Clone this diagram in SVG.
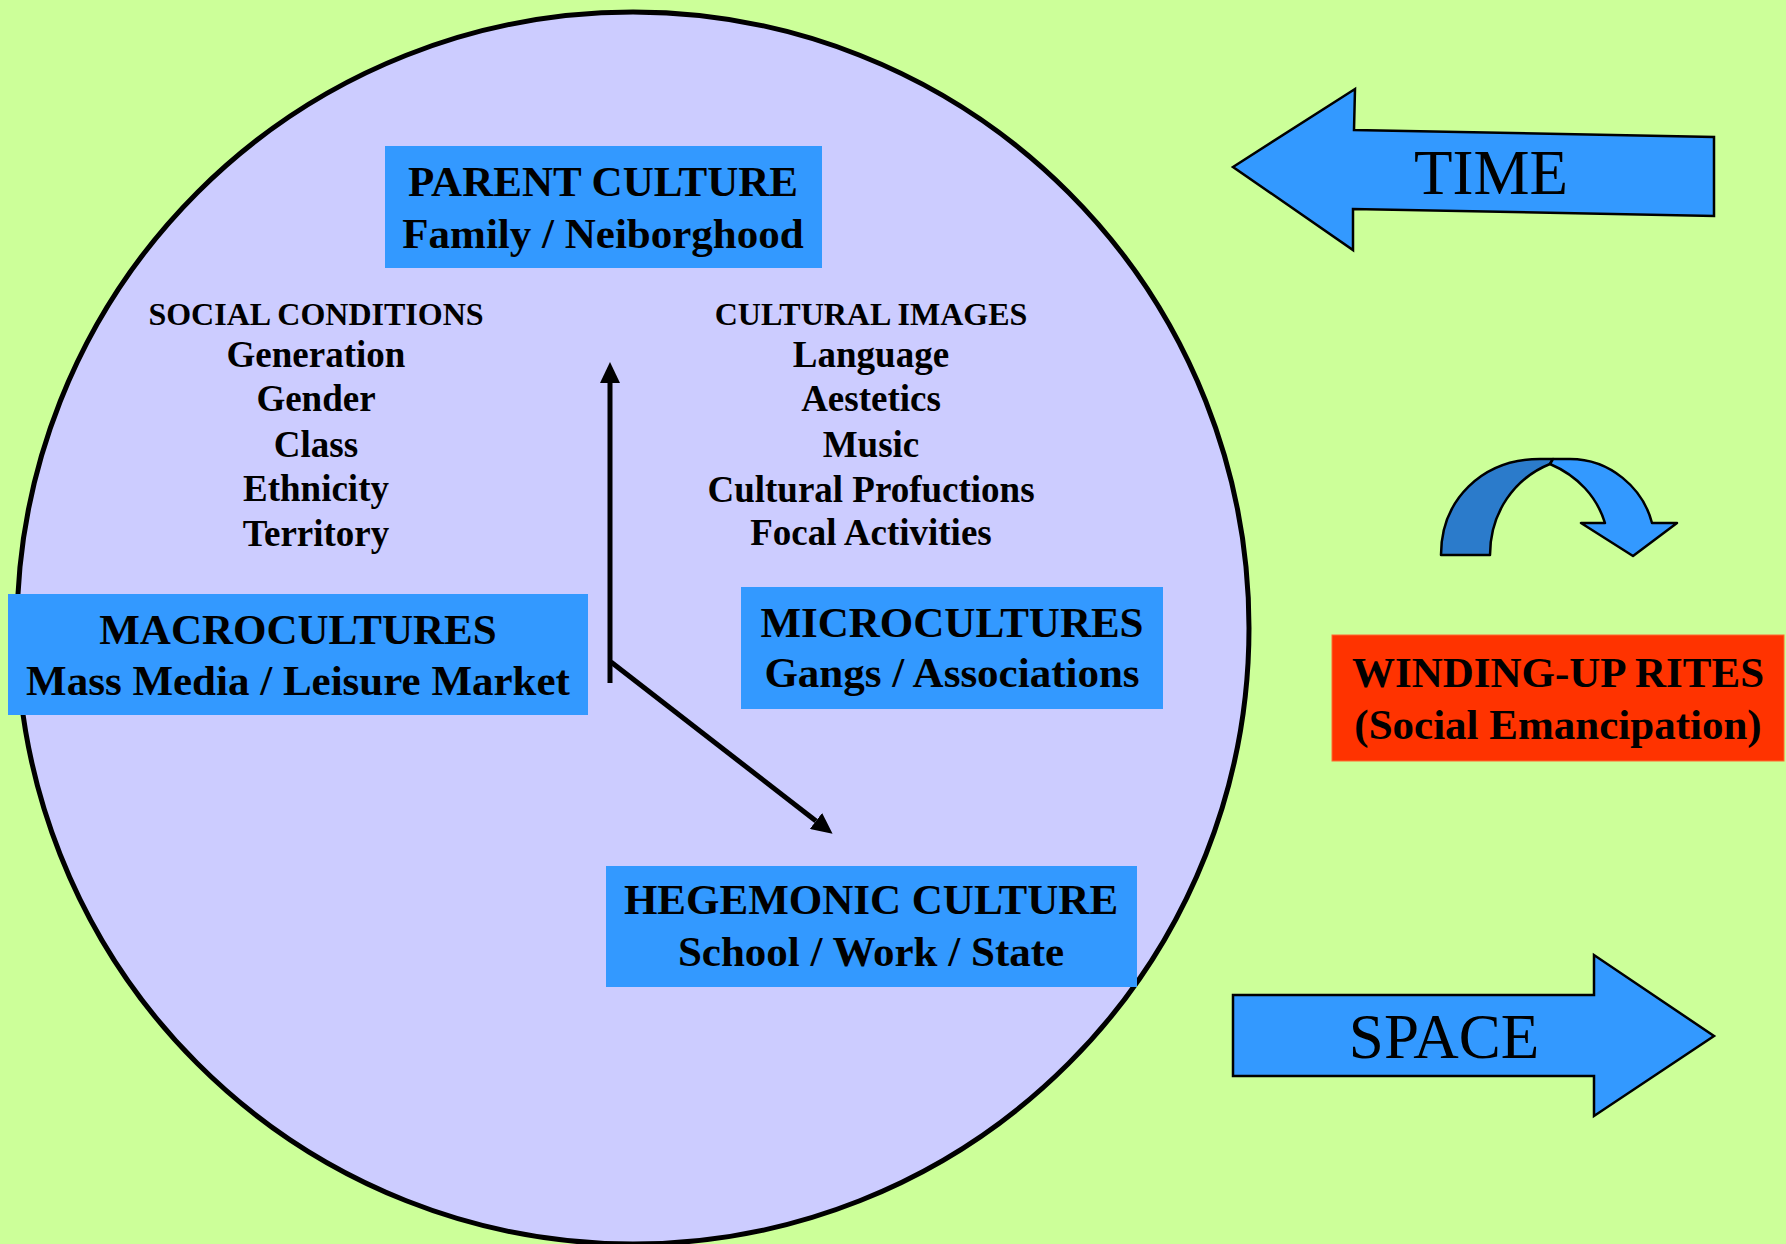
<svg xmlns="http://www.w3.org/2000/svg" width="1786" height="1244" viewBox="0 0 1786 1244">
<defs>
<style>
.box{fill:#3399FF}
.t{font-family:"Liberation Serif","Times New Roman",serif;font-weight:bold;fill:#000;text-anchor:middle}
.big{font-size:43px}
.mid{font-size:37px}
.sm{font-size:32px}
.reg{font-family:"Liberation Serif","Times New Roman",serif;font-size:63px;fill:#000;text-anchor:middle}
.conn{stroke:#000;stroke-width:5;fill:none}
.blk{fill:#3399FF;stroke:#000;stroke-width:2.5;stroke-linejoin:miter}
</style>
<marker id="ah" markerUnits="userSpaceOnUse" markerWidth="21" markerHeight="20" refX="0" refY="10" orient="auto" viewBox="0 0 21 20">
<path d="M0,0 L21,10 L0,20 Z" fill="#000"/>
</marker>
</defs>
<rect x="0" y="0" width="1786" height="1244" fill="#CCFF99"/>
<g id="circle">
<circle cx="633" cy="628" r="616" fill="#CCCCFF" stroke="#000" stroke-width="5"/>
</g>
<g id="connectors">
<line class="conn" x1="610" y1="683" x2="610" y2="383" marker-end="url(#ah)"/>
<line class="conn" x1="611" y1="662" x2="816" y2="821" marker-end="url(#ah)"/>
</g>
<g id="parent-culture">
<rect class="box" x="385" y="146" width="437" height="122"/>
<text class="t big" x="603" y="196">PARENT CULTURE</text>
<text class="t big" x="603" y="248">Family / Neiborghood</text>
</g>
<g id="social-conditions">
<text class="t sm" x="316" y="325">SOCIAL CONDITIONS</text>
<text class="t mid" x="316" y="367">Generation</text>
<text class="t mid" x="316" y="411">Gender</text>
<text class="t mid" x="316" y="457">Class</text>
<text class="t mid" x="316" y="501">Ethnicity</text>
<text class="t mid" x="316" y="546">Territory</text>
</g>
<g id="cultural-images">
<text class="t sm" x="871" y="325">CULTURAL IMAGES</text>
<text class="t mid" x="871" y="367">Language</text>
<text class="t mid" x="871" y="411">Aestetics</text>
<text class="t mid" x="871" y="457">Music</text>
<text class="t mid" x="871" y="502">Cultural Profuctions</text>
<text class="t mid" x="871" y="545">Focal Activities</text>
</g>
<g id="macrocultures">
<rect class="box" x="8" y="594" width="580" height="121"/>
<text class="t big" x="298" y="644">MACROCULTURES</text>
<text class="t big" x="298" y="695">Mass Media / Leisure Market</text>
</g>
<g id="microcultures">
<rect class="box" x="741" y="587" width="422" height="122"/>
<text class="t big" x="952" y="637">MICROCULTURES</text>
<text class="t big" x="952" y="687">Gangs / Associations</text>
</g>
<g id="hegemonic-culture">
<rect class="box" x="606" y="866" width="531" height="121"/>
<text class="t big" x="871" y="914">HEGEMONIC CULTURE</text>
<text class="t big" x="871" y="966">School / Work / State</text>
</g>
<g id="time">
<polygon class="blk" points="1233,167 1355,89 1354,130 1714,137 1714,216 1353,209 1353,250"/>
<text class="reg" x="1491" y="194">TIME</text>
</g>
<g id="winding-arrow">
<path d="M1441,555 C1441,500 1482,459 1540,459 L1553,459 L1550,464 C1515,478 1490,512 1490,555 Z" fill="#2B7BCB" stroke="#000" stroke-width="2.5" stroke-linejoin="round"/>
<path d="M1550,464 L1553,459 L1570,459 C1610,459 1643,488 1652,523 L1677,523 L1633,556 L1581,523 L1605,523 C1597,497 1578,476 1550,464 Z" fill="#3399FF" stroke="#000" stroke-width="2.5" stroke-linejoin="round"/>
</g>
<g id="winding-up-rites">
<rect x="1332" y="635" width="452" height="126" fill="#FF3300" stroke="#FF6A33" stroke-width="1"/>
<text class="t big" x="1558" y="687">WINDING-UP RITES</text>
<text class="t big" x="1558" y="739">(Social Emancipation)</text>
</g>
<g id="space">
<polygon class="blk" points="1233,995 1594,995 1594,955 1714,1036 1594,1116 1594,1076 1233,1076"/>
<text class="reg" x="1444" y="1058">SPACE</text>
</g>
</svg>
